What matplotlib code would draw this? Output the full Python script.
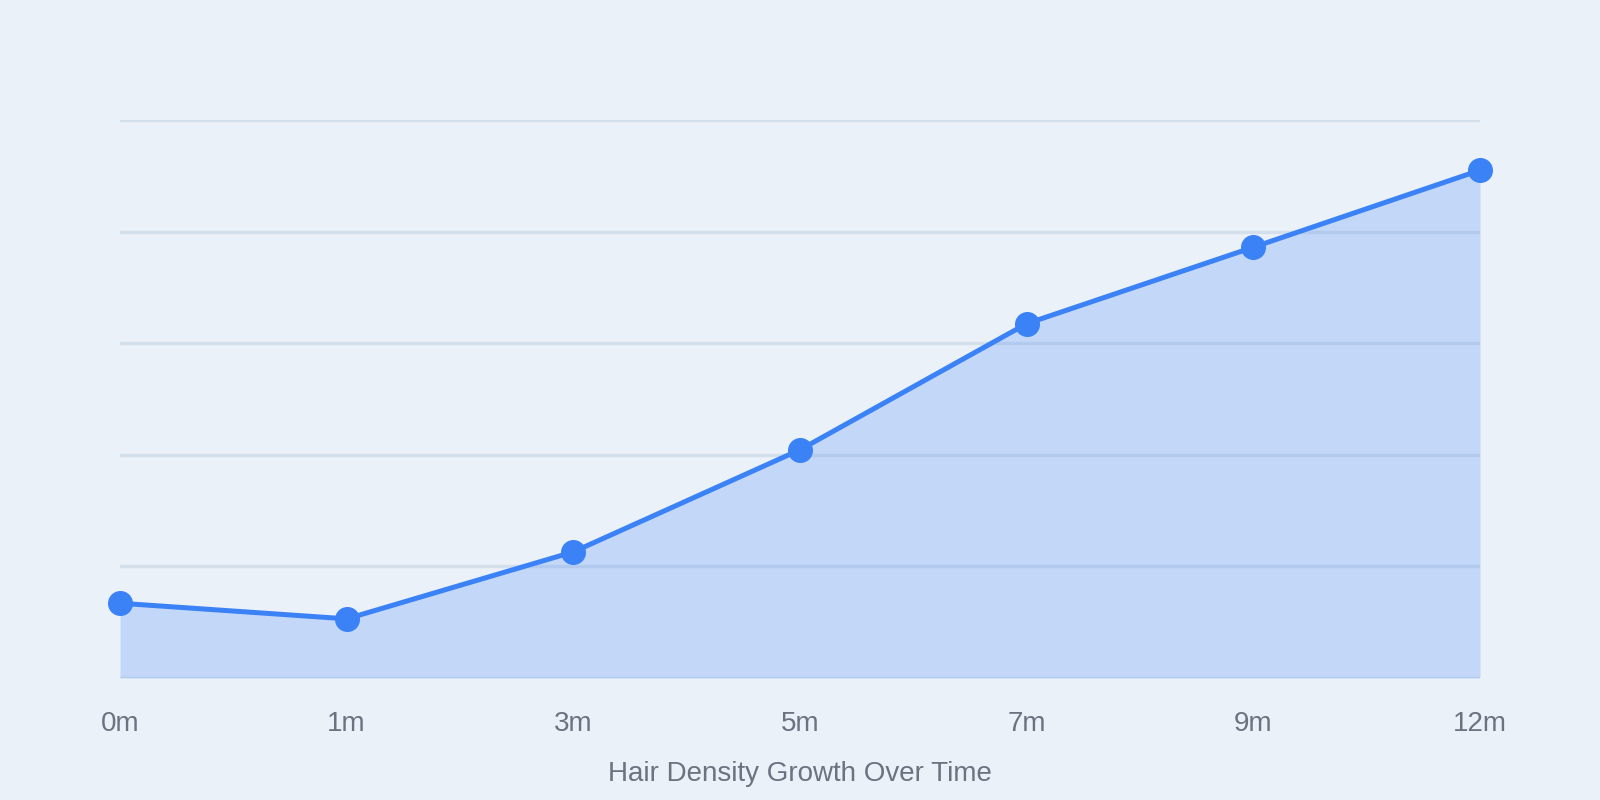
import matplotlib.pyplot as plt
import numpy as np

months = ["0m", "1m", "3m", "5m", "7m", "9m", "12m"]
density = [13.4, 10.6, 22.6, 40.9, 63.5, 77.2, 91.0]
grid_levels = [0, 20, 40, 60, 80, 100]

bg = "#eaf1f9"
blue = "#3b82f6"
text_grey = "#6b7280"

plt.rcParams['font.family'] = ['Liberation Sans', 'DejaVu Sans']

fig = plt.figure(figsize=(16, 8), dpi=100, facecolor=bg)
ax = fig.add_axes([0.075, 0.1525, 0.85, 0.6975])
ax.set_facecolor(bg)

x = np.arange(len(months))
for g in grid_levels:
    ax.axhline(g, color="#d4dfec", linewidth=2.4, zorder=1)

ax.fill_between(x, density, 0, color=blue, alpha=0.22, linewidth=0, zorder=2)
ax.plot(x, density, color=blue, linewidth=3.6, marker='o', markersize=17,
        zorder=3, clip_on=False)

ax.set_xlim(0, len(months) - 1)
ax.set_ylim(0, 100)
ax.set_xticks(x)
ax.set_xticklabels(months, color=text_grey, fontsize=20)
ax.set_yticks([])
ax.tick_params(axis='x', length=0, pad=24)
for s in ax.spines.values():
    s.set_visible(False)

ax.set_xlabel("Hair Density Growth Over Time", color=text_grey, fontsize=20, labelpad=17)

fig.savefig("out.png", dpi=100, facecolor=bg)
